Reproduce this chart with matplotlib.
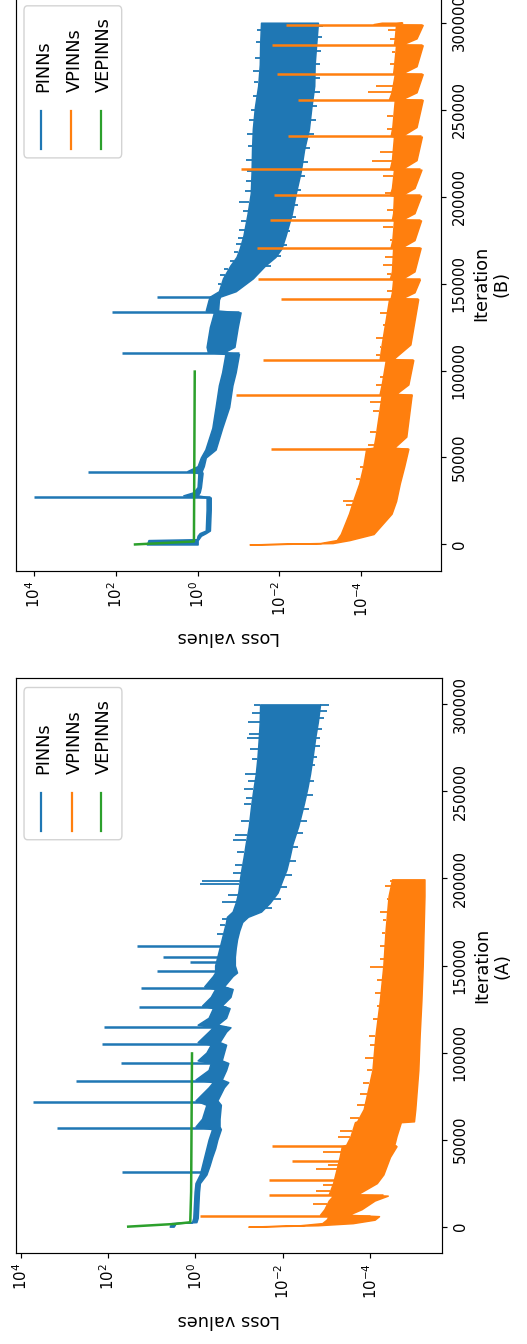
import numpy as np
import matplotlib
matplotlib.use("Agg")
import matplotlib.pyplot as plt
from matplotlib.patches import FancyBboxPatch
from matplotlib.ticker import FixedLocator, NullLocator, LogFormatterSciNotation
from matplotlib.lines import Line2D

# ---------------- chart values (loss stored as log10 exponent) ----------------
series_names = ["PINNs", "VPINNs", "VEPINNs"]
series_colors = ["#1f77b4", "#ff7f0e", "#2ca02c"]
iter_ticks = [0, 50000, 100000, 150000, 200000, 250000, 300000]
loss_tick_exps = [4, 2, 0, -2, -4]
panel_tags = ["(A)", "(B)"]

# ---- Panel A : PINNs band core (upper / lower envelope) ----
a_pinn_it = [0, 2000, 2600, 5000, 10000, 20000, 25000, 30000, 35000, 40000, 45000,
             50000, 56000, 57500, 62000, 70000, 72500, 80000, 83000, 84500, 90000,
             94000, 95500, 100000, 104500, 106000, 112000, 114500, 116000, 120000,
             125500, 127000, 132000, 136500, 138000, 144000, 146000, 150000, 155000,
             160000, 165000, 170000, 175000, 178000, 181000, 186000, 192000, 200000,
             205000, 212000, 220000, 230000, 243000, 252000, 260000, 270000, 281000,
             290000, 300000]
a_pinn_hi = [0.59, 0.55, 0.08, 0.05, 0.04, 0.02, 0.0, -0.1, -0.15, -0.2, -0.25,
             -0.3, -0.38, 0.0, -0.15, -0.25, 0.0, -0.3, -0.4, 0.0, -0.3,
             -0.35, -0.05, -0.25, -0.35, -0.05, -0.3, -0.4, -0.05, -0.3,
             -0.4, -0.15, -0.35, -0.45, -0.2, -0.4, -0.45, -0.45, -0.5,
             -0.55, -0.6, -0.65, -0.7, -0.72, -0.85, -0.92, -0.98, -1.02,
             -1.05, -1.1, -1.15, -1.22, -1.28, -1.33, -1.38, -1.42, -1.45,
             -1.47, -1.48]
a_pinn_lo = [0.50, 0.45, -0.02, -0.05, -0.06, -0.08, -0.1, -0.25, -0.32, -0.38, -0.45,
             -0.5, -0.58, -0.55, -0.55, -0.58, -0.5, -0.65, -0.75, -0.6, -0.7,
             -0.75, -0.6, -0.65, -0.7, -0.55, -0.7, -0.8, -0.5, -0.7,
             -0.78, -0.6, -0.8, -0.85, -0.65, -0.85, -0.95, -0.9, -0.9,
             -0.92, -0.95, -1.0, -1.07, -1.2, -1.5, -1.7, -1.88, -2.0,
             -2.08, -2.15, -2.22, -2.35, -2.48, -2.56, -2.62, -2.68, -2.74,
             -2.8, -2.85]
# noise teeth sticking out of the band edges
a_pinn_hi_teeth_it = [168000, 173000, 177000, 186500, 190500, 196600, 198400, 203000,
                      208000, 215000, 222000, 225000, 233000, 242700, 246000, 251400,
                      256000, 259900, 268500, 274300, 281000, 283000, 289700, 295000,
                      299500]
a_pinn_hi_teeth = [-0.5, -0.55, -0.6, -0.6, -0.75, -0.11, -0.15, -0.85,
                   -0.9, -0.95, -0.86, -0.91, -1.05, -1.12, -1.15, -1.1,
                   -1.2, -1.14, -1.3, -1.25, -1.18, -1.22, -1.21, -1.3,
                   -1.35]
a_pinn_lo_teeth_it = [183000, 188000, 195000, 202000, 210000, 218000, 226000, 233000,
                      240000, 248000, 256000, 265000, 270000, 276000, 281000, 286000,
                      292000, 296000, 299500]
a_pinn_lo_teeth = [-1.75, -1.95, -2.1, -2.2, -2.3, -2.35, -2.45, -2.55,
                   -2.6, -2.68, -2.72, -2.74, -2.78, -2.86, -2.86, -2.9,
                   -2.95, -3.0, -3.05]
a_pinn_spike_it = [31600, 56500, 71400, 83500, 94100, 105000, 114900, 126000, 137000,
                   146600, 152300, 154800, 161500]
a_pinn_spike_peak = [1.69, 3.16, 3.73, 2.73, 1.71, 2.15, 2.09, 1.29, 1.24,
                     0.88, 0.12, 0.75, 1.34]
a_pinn_spike_base = [-0.2, -0.5, -0.5, -0.6, -0.6, -0.6, -0.7, -0.7, -0.75,
                     -0.8, -0.8, -0.8, -0.85]

# ---- Panel A : VPINNs band ----
a_vpinn_it = [0, 800, 2000, 4000, 6000, 6800, 10000, 15000, 17800, 18500, 25000, 30000,
              40000, 46200, 47000, 52000, 60000, 60500, 67500, 90000, 110000, 130000,
              150000, 170000, 190000, 199500]
a_vpinn_hi = [-1.21, -2.4, -2.9, -3.0, -3.05, -2.85, -2.95, -3.05, -3.15, -3.05, -3.15, -3.2,
              -3.3, -3.35, -3.45, -3.55, -3.65, -3.7, -3.85, -4.05, -4.12, -4.22,
              -4.3, -4.35, -4.42, -4.5]
a_vpinn_lo = [-1.25, -2.8, -3.6, -4.1, -4.2, -3.5, -3.8, -4.1, -4.4, -3.7, -4.15, -4.3,
              -4.45, -4.6, -4.55, -4.6, -4.7, -5.0, -5.03, -5.1, -5.13, -5.17,
              -5.2, -5.22, -5.24, -5.24]
a_vpinn_hi_teeth_it = [13000, 20500, 24200, 32900, 35300, 42700, 51400, 55100, 62500,
                       70000, 76000, 82300, 89700, 97000, 104500, 109400, 119300, 126700,
                       134100, 141500, 149000, 153900, 161300, 168700, 176100, 181000,
                       188500, 195900, 198400]
a_vpinn_hi_teeth = [-2.69, -2.76, -2.92, -2.76, -3.03, -2.92, -3.26, -3.3, -3.53,
                    -3.69, -3.76, -3.84, -3.92, -3.88, -3.99, -3.96, -4.07, -4.15,
                    -4.11, -4.15, -3.99, -4.22, -4.22, -4.26, -4.3, -4.22,
                    -4.38, -4.34, -4.46]
a_vpinn_spike_it = [6300, 18000, 27000, 37800, 46400]
a_vpinn_spike_peak = [-0.11, -1.68, -1.68, -2.22, -1.76]
a_vpinn_spike_base = [-4.0, -4.3, -4.15, -4.4, -4.6]

# ---- Panel A : VEPINNs line ----
a_ve_it = [0, 1500, 2500, 20000, 99500]
a_ve_loss = [1.54, 0.5, 0.12, 0.1, 0.08]

# ---- Panel B : PINNs band core ----
b_pinn_it = [0, 2500, 3000, 5000, 6500, 8000, 20000, 27000, 28200, 30000, 33000, 41000,
             42200, 45000, 50000, 54600, 67000, 79000, 91500, 99000, 109500, 110600,
             113600, 125000, 133400, 134500, 140700, 142500, 145600, 153000, 160400,
             165300, 170200, 177600, 190000, 202000, 214500, 226800, 239000, 251400,
             263700, 276000, 288300, 300000]
b_pinn_hi = [1.24, 1.2, 0.02, 0.0, -0.05, -0.2, -0.22, -0.22, 0.35, 0.1, 0.0, -0.02,
             0.25, 0.0, -0.08, -0.19, -0.36, -0.44, -0.52, -0.6, -0.68, -0.25,
             -0.22, -0.3, -0.4, -0.2, -0.27, -0.3, -0.52, -0.62, -0.8,
             -0.95, -1.03, -1.12, -1.22, -1.3, -1.32, -1.33, -1.35, -1.4,
             -1.48, -1.52, -1.53, -1.55]
b_pinn_lo = [0.0, 0.0, -0.02, -0.08, -0.2, -0.3, -0.32, -0.32, 0.0, -0.05, -0.08, -0.12,
             -0.1, -0.15, -0.2, -0.44, -0.6, -0.77, -0.85, -0.93, -1.01, -0.65,
             -0.9, -0.98, -1.05, -0.5, -0.52, -0.55, -0.93, -1.35, -1.65,
             -1.9, -2.05, -2.15, -2.3, -2.4, -2.52, -2.6, -2.72, -2.78,
             -2.85, -2.86, -2.9, -2.94]
b_pinn_hi_teeth_it = [150000, 155000, 158500, 163000, 168000, 172500, 176000, 181000,
                      186000, 192000, 197000, 203000, 209000, 215000, 221000, 229000,
                      236000, 244000, 250000, 258000, 266000, 272000, 280000, 289000,
                      296000]
b_pinn_hi_teeth = [-0.5, -0.55, -0.65, -0.8, -0.9, -0.95, -0.98, -1.0,
                   -1.05, -1.1, -1.0, -1.15, -1.18, -1.2, -1.18, -1.22,
                   -1.2, -1.25, -1.3, -1.35, -1.38, -1.35, -1.4, -1.42,
                   -1.45]
b_pinn_lo_teeth_it = [160000, 166000, 172000, 180000, 188000, 195000, 204000, 212000,
                      220000, 228000, 236000, 244000, 252000, 260000, 268000, 276000,
                      284000, 292000, 298000]
b_pinn_lo_teeth = [-1.8, -2.05, -2.18, -2.25, -2.4, -2.45, -2.52, -2.62,
                   -2.7, -2.75, -2.85, -2.9, -2.92, -2.98, -2.98, -3.0,
                   -3.02, -3.05, -3.06]
b_pinn_spike_it = [27500, 41600, 110000, 133800, 142000]
b_pinn_spike_peak = [4.0, 2.69, 1.85, 2.1, 1.0]
b_pinn_spike_base = [-0.3, -0.1, -1.0, -1.0, -0.5]

# ---- Panel B : VPINNs band (saw-tooth between restarts) ----
b_vpinn_it = [0, 800, 2500, 6000, 17700, 25000, 35000, 45000, 55000,
              55600, 62000, 86000,
              86600, 92000, 106000,
              106600, 115000, 141000,
              141600, 145000, 152300,
              152800, 157000, 170500,
              171000, 175000, 186300,
              186800, 190500, 200500,
              201000, 205000, 215500,
              216000, 221000, 234500,
              235000, 240000, 255600,
              256100, 260000, 270400,
              270900, 275000, 287000,
              287500, 291000, 298700,
              299200, 300000]
b_vpinn_hi = [-1.27, -3.0, -3.4, -3.5, -3.7, -3.8, -3.95, -4.05, -4.12,
              -4.3, -4.35, -4.5,
              -4.45, -4.5, -4.6,
              -4.45, -4.5, -4.68,
              -4.72, -4.75, -4.78,
              -4.7, -4.75, -4.78,
              -4.72, -4.76, -4.8,
              -4.75, -4.78, -4.8,
              -4.7, -4.75, -4.8,
              -4.7, -4.75, -4.8,
              -4.72, -4.76, -4.82,
              -4.68, -4.74, -4.82,
              -4.78, -4.8, -4.85,
              -4.8, -4.82, -4.85,
              -4.3, -4.5]
b_vpinn_lo = [-1.3, -3.3, -3.71, -4.3, -4.74, -4.85, -4.94, -5.05, -5.15,
              -4.8, -5.1, -5.23,
              -4.85, -5.15, -5.27,
              -4.78, -5.2, -5.39,
              -5.0, -5.3, -5.43,
              -5.0, -5.3, -5.45,
              -5.0, -5.3, -5.46,
              -5.0, -5.3, -5.46,
              -5.0, -5.3, -5.47,
              -5.0, -5.35, -5.48,
              -5.0, -5.35, -5.5,
              -5.0, -5.35, -5.5,
              -5.0, -5.35, -5.5,
              -5.0, -5.35, -5.5,
              -4.6, -5.0]
b_vpinn_hi_teeth_it = [22600, 25100, 37400, 44800, 57000, 64500, 76800, 81700, 91500,
                       96400, 108700, 113600, 118600, 126000, 133300, 145600, 155500,
                       160400, 165300, 175200, 182500, 192400, 202200, 212000, 220700,
                       225600, 239100, 246500, 260000, 263700, 276000, 283400, 290800,
                       295700]
b_vpinn_hi_teeth = [-3.63, -3.55, -3.88, -3.96, -4.17, -4.21, -4.29, -4.21, -4.37,
                    -4.45, -4.37, -4.45, -4.37, -4.53, -4.45, -4.62, -4.62,
                    -4.53, -4.58, -4.7, -4.53, -4.62, -4.58, -4.53, -4.25,
                    -4.45, -4.62, -4.62, -4.17, -4.37, -4.7, -4.74, -4.7,
                    -4.66]
b_vpinn_spike_it = [55100, 86100, 106300, 141200, 152500, 170700, 186500, 200700,
                    215700, 234700, 255800, 270600, 287100, 298900]
b_vpinn_spike_peak = [-1.79, -0.93, -1.61, -2.04, -1.48, -1.46, -1.77, -1.86,
                      -1.07, -2.22, -2.45, -1.93, -1.81, -2.16]
b_vpinn_spike_base = [-5.15, -5.23, -5.27, -5.39, -5.43, -5.43, -5.43, -5.43,
                      -5.43, -5.46, -5.48, -5.48, -5.48, -5.48]

# ---- Panel B : VEPINNs line ----
b_ve_it = [0, 1700, 99400]
b_ve_loss = [1.53, 0.09, 0.07]

# ---------------- drawing ----------------
TICK_FS = 10.7
LABEL_FS = 12.8

fig = plt.figure(figsize=(5.27, 13.44), dpi=100)
fig.patch.set_facecolor("white")

axB = fig.add_axes([0.0298, 0.5755, 0.8076, 0.4270])
axA = fig.add_axes([0.0298, 0.0679, 0.8095, 0.4274])


def band(ax, it, hi, lo, color):
    it = np.asarray(it, float)
    ax.fill_betweenx(it, 10.0 ** np.asarray(lo), 10.0 ** np.asarray(hi),
                     facecolor=color, edgecolor=color, linewidth=1.1, zorder=2)


def teeth(ax, core_it, core_edge, t_it, t_val, color):
    # short noise excursions drawn from the band edge out to the read tip value
    base = np.interp(t_it, core_it, core_edge)
    ax.hlines(t_it, 10.0 ** np.asarray(t_val), 10.0 ** base,
              colors=color, linewidth=1.3, zorder=2)


def spikes(ax, it, peak, base, color):
    ax.hlines(it, 10.0 ** np.asarray(peak), 10.0 ** np.asarray(base),
              colors=color, linewidth=1.8, zorder=2)


def setup(ax, xlim_exp, tag):
    ax.set_xscale("log")
    ax.set_xlim(10.0 ** xlim_exp[0], 10.0 ** xlim_exp[1])
    ax.set_ylim(-15000, 315000)
    ax.xaxis.set_major_locator(FixedLocator([10.0 ** e for e in loss_tick_exps]))
    ax.xaxis.set_minor_locator(NullLocator())
    ax.xaxis.set_major_formatter(LogFormatterSciNotation())
    ax.yaxis.tick_right()
    ax.set_yticks(iter_ticks)
    ax.set_yticklabels([str(v) for v in iter_ticks])
    ax.tick_params(axis="both", labelsize=TICK_FS, length=3.75, width=0.85, pad=3.75)
    ax.tick_params(axis="x", labelrotation=90)
    ax.tick_params(axis="y", labelrotation=90)
    for lbl in ax.get_yticklabels():
        lbl.set_verticalalignment("center")
    for s in ax.spines.values():
        s.set_linewidth(0.85)
    ax.set_xlabel("Loss values", fontsize=LABEL_FS, rotation=180)
    ax.xaxis.set_label_coords(0.5, -0.101)
    ax.yaxis.set_label_position("right")
    ax.set_ylabel("Iteration\n" + tag, fontsize=LABEL_FS, rotation=90, linespacing=1.2)
    ax.yaxis.set_label_coords(1.072, 0.5)


def legend(ax):
    box = FancyBboxPatch((0.0195, 0.719), 0.2295, 0.265,
                         boxstyle="round,pad=0,rounding_size=0.008",
                         transform=ax.transAxes, facecolor="white",
                         edgecolor="0.8", linewidth=1.0, alpha=0.85, zorder=5)
    ax.add_patch(box)
    line_x = [0.0593, 0.131, 0.2011]
    text_x = [0.0774, 0.150, 0.219]
    for lx, tx, name, col in zip(line_x, text_x, series_names, series_colors):
        ax.add_line(Line2D([lx, lx], [0.735, 0.800], transform=ax.transAxes,
                           color=col, linewidth=1.6, zorder=6))
        ax.text(tx, 0.833, name, transform=ax.transAxes, rotation=90,
                rotation_mode="anchor", ha="left", va="baseline",
                fontsize=LABEL_FS, zorder=6)


# Panel A
c = series_colors
band(axA, a_pinn_it, a_pinn_hi, a_pinn_lo, c[0])
teeth(axA, a_pinn_it, a_pinn_hi, a_pinn_hi_teeth_it, a_pinn_hi_teeth, c[0])
teeth(axA, a_pinn_it, a_pinn_lo, a_pinn_lo_teeth_it, a_pinn_lo_teeth, c[0])
spikes(axA, a_pinn_spike_it, a_pinn_spike_peak, a_pinn_spike_base, c[0])
band(axA, a_vpinn_it, a_vpinn_hi, a_vpinn_lo, c[1])
teeth(axA, a_vpinn_it, a_vpinn_hi, a_vpinn_hi_teeth_it, a_vpinn_hi_teeth, c[1])
spikes(axA, a_vpinn_spike_it, a_vpinn_spike_peak, a_vpinn_spike_base, c[1])
axA.plot(10.0 ** np.asarray(a_ve_loss), a_ve_it, color=c[2], linewidth=1.8, zorder=3)
setup(axA, (4.115, -5.649), panel_tags[0])
legend(axA)

# Panel B
band(axB, b_pinn_it, b_pinn_hi, b_pinn_lo, c[0])
teeth(axB, b_pinn_it, b_pinn_hi, b_pinn_hi_teeth_it, b_pinn_hi_teeth, c[0])
teeth(axB, b_pinn_it, b_pinn_lo, b_pinn_lo_teeth_it, b_pinn_lo_teeth, c[0])
spikes(axB, b_pinn_spike_it, b_pinn_spike_peak, b_pinn_spike_base, c[0])
band(axB, b_vpinn_it, b_vpinn_hi, b_vpinn_lo, c[1])
teeth(axB, b_vpinn_it, b_vpinn_hi, b_vpinn_hi_teeth_it, b_vpinn_hi_teeth, c[1])
spikes(axB, b_vpinn_spike_it, b_vpinn_spike_peak, b_vpinn_spike_base, c[1])
axB.plot(10.0 ** np.asarray(b_ve_loss), b_ve_it, color=c[2], linewidth=1.8, zorder=3)
setup(axB, (4.446, -5.956), panel_tags[1])
legend(axB)

fig.savefig("out.png", dpi=100, facecolor="white")
